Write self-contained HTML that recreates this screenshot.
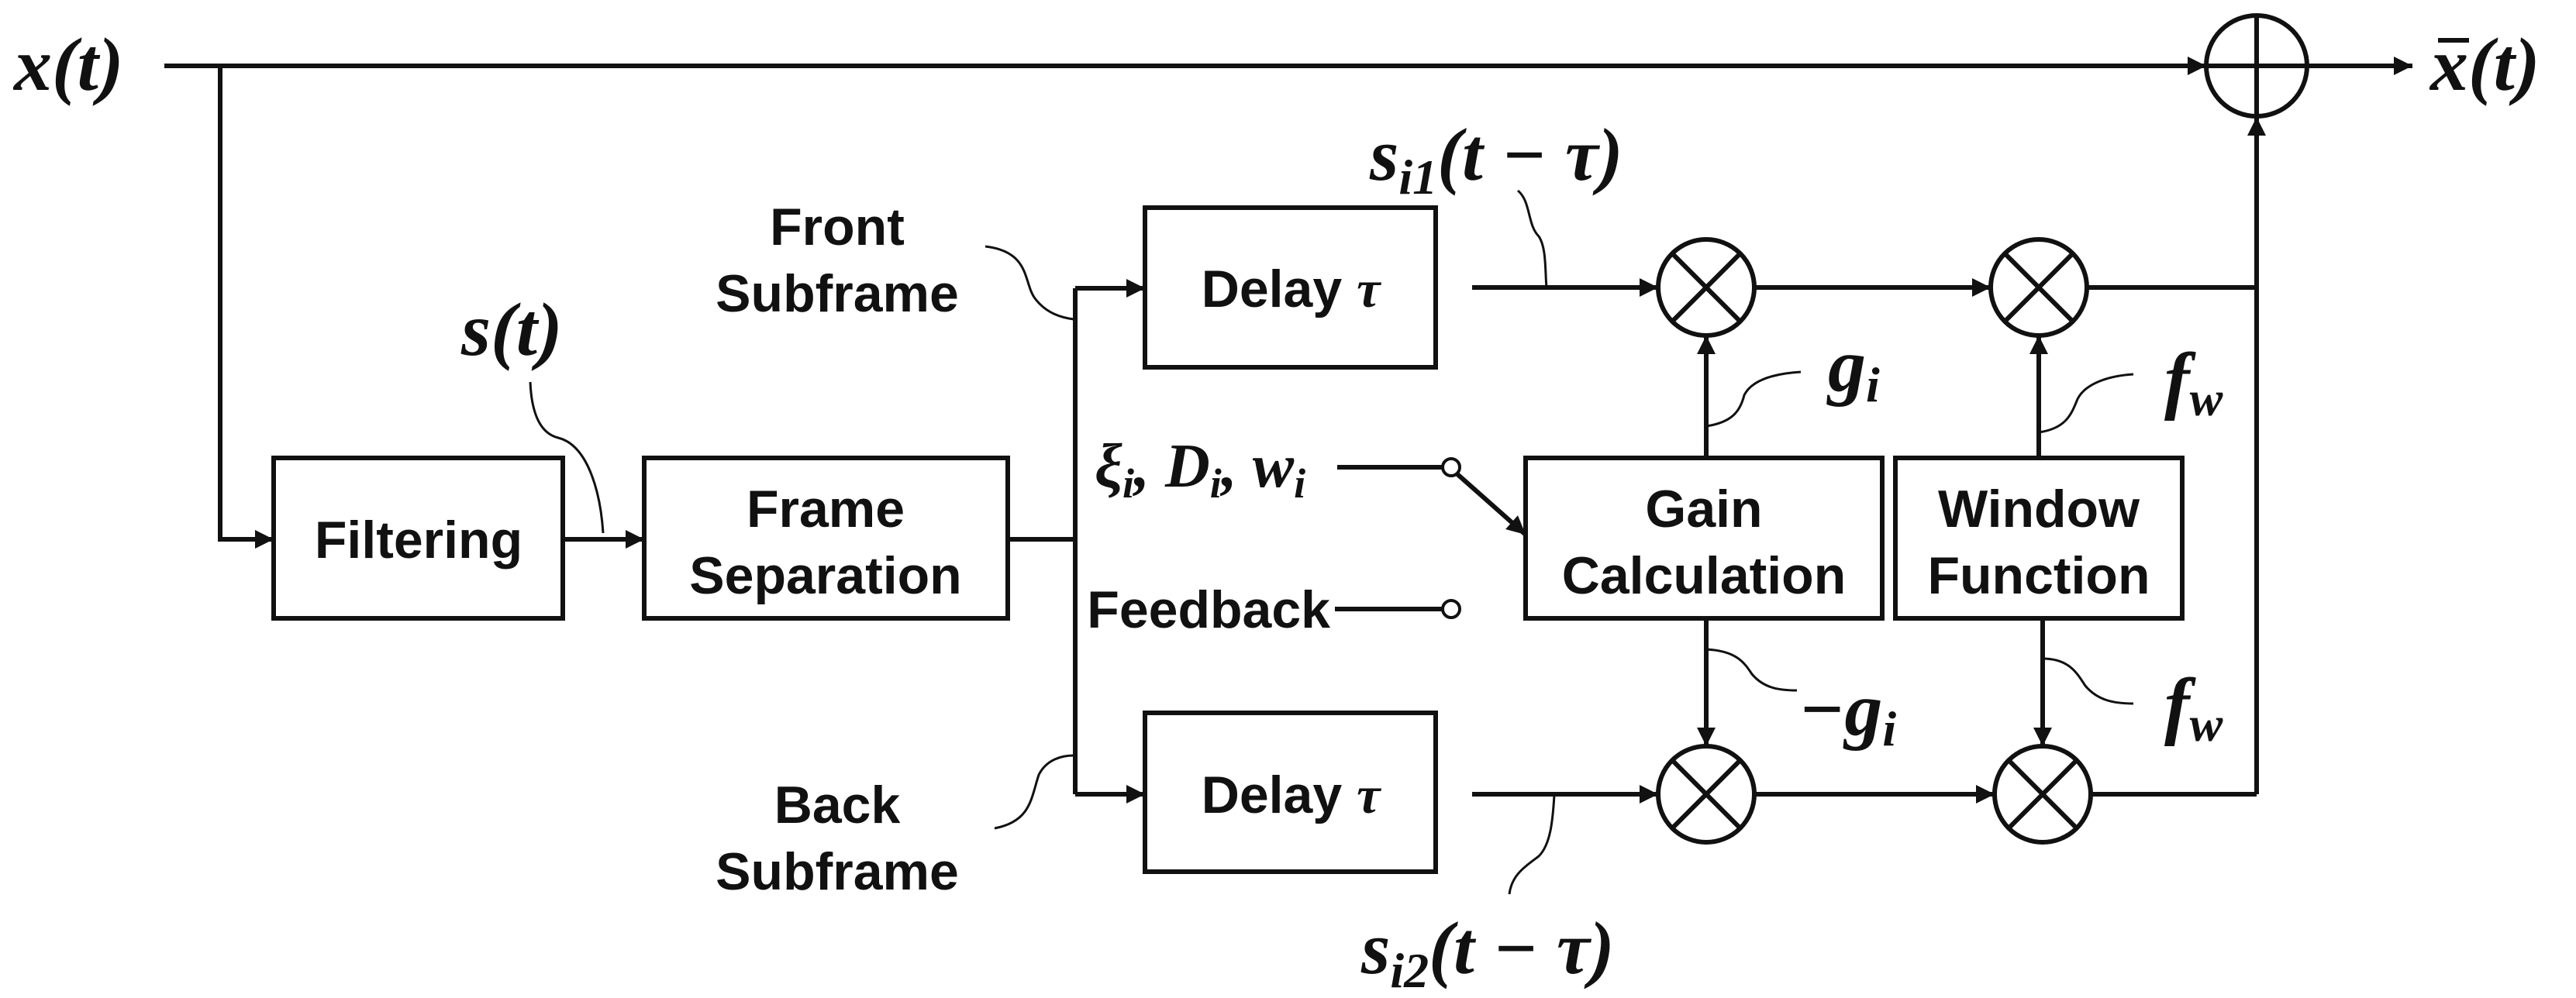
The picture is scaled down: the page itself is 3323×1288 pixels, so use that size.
<!DOCTYPE html>
<html><head><meta charset="utf-8"><style>
html,body{margin:0;padding:0;background:#fff}
svg{display:block}
.b{font-family:"Liberation Sans",sans-serif;font-weight:bold;font-size:68px;fill:#111}
.m{font-family:"Liberation Serif",serif;font-weight:bold;font-style:italic;fill:#111}
</style></head><body>
<svg width="3323" height="1288" viewBox="0 0 3323 1288" xmlns="http://www.w3.org/2000/svg">
<defs>
<marker id="A" viewBox="0 0 10 10" refX="10" refY="5" markerWidth="26" markerHeight="24" orient="auto" markerUnits="userSpaceOnUse"><path d="M0,0 L10,5 L0,10z" fill="#111"/></marker></defs>
<g stroke="#111" stroke-width="6" fill="none">
<line x1="212" y1="85" x2="2846" y2="85" marker-end="url(#A)"/>
<polyline points="284,85 284,696 353,696" marker-end="url(#A)"/>
<rect x="353" y="591" width="373" height="207"/>
<line x1="726" y1="696" x2="831" y2="696" marker-end="url(#A)"/>
<rect x="831" y="591" width="469" height="207"/>
<line x1="1300" y1="696" x2="1387" y2="696"/>
<line x1="1387" y1="372" x2="1387" y2="1025"/>
<line x1="1387" y1="372" x2="1477" y2="372" marker-end="url(#A)"/>
<line x1="1387" y1="1025" x2="1477" y2="1025" marker-end="url(#A)"/>
<rect x="1477" y="268" width="375" height="206"/>
<rect x="1477" y="920" width="375" height="205"/>
<path d="M1271,318 C1330,325 1320,365 1335,385 C1350,405 1370,410 1385,412" stroke-width="3"/>
<path d="M1283,1069 C1330,1060 1330,1030 1340,1000 C1350,980 1370,975 1385,975" stroke-width="3"/>
<path d="M684,493 C686,540 700,560 720,565 C760,575 775,640 778,688" stroke-width="3"/>
<line x1="1725" y1="603" x2="1860" y2="603"/>
<circle cx="1872" cy="603" r="11" stroke-width="4"/>
<line x1="1880" y1="612" x2="1968" y2="690" marker-end="url(#A)"/>
<line x1="1722" y1="786" x2="1860" y2="786"/>
<circle cx="1872" cy="786" r="11" stroke-width="4"/>
<rect x="1968" y="591" width="460" height="207"/>
<rect x="2445" y="591" width="370" height="207"/>
<circle cx="2201" cy="371" r="62"/><line x1="2157" y1="327" x2="2245" y2="415"/><line x1="2245" y1="327" x2="2157" y2="415"/>
<circle cx="2630" cy="371" r="62"/><line x1="2586" y1="327" x2="2674" y2="415"/><line x1="2674" y1="327" x2="2586" y2="415"/>
<circle cx="2201" cy="1025" r="62"/><line x1="2157" y1="981" x2="2245" y2="1069"/><line x1="2245" y1="981" x2="2157" y2="1069"/>
<circle cx="2635" cy="1025" r="62"/><line x1="2591" y1="981" x2="2679" y2="1069"/><line x1="2679" y1="981" x2="2591" y2="1069"/>
<line x1="1899" y1="371" x2="2139" y2="371" marker-end="url(#A)"/>
<line x1="1899" y1="1025" x2="2139" y2="1025" marker-end="url(#A)"/>
<line x1="2263" y1="371" x2="2568" y2="371" marker-end="url(#A)"/>
<line x1="2263" y1="1025" x2="2573" y2="1025" marker-end="url(#A)"/>
<line x1="2201" y1="591" x2="2201" y2="433" marker-end="url(#A)"/>
<line x1="2630" y1="591" x2="2630" y2="433" marker-end="url(#A)"/>
<line x1="2201" y1="798" x2="2201" y2="963" marker-end="url(#A)"/>
<line x1="2635" y1="798" x2="2635" y2="963" marker-end="url(#A)"/>
<line x1="2692" y1="371" x2="2911" y2="371"/>
<line x1="2697" y1="1025" x2="2911" y2="1025"/>
<line x1="2911" y1="1025" x2="2911" y2="151" marker-end="url(#A)"/>
<circle cx="2911" cy="85" r="65"/>
<line x1="2846" y1="85" x2="2976" y2="85"/><line x1="2911" y1="20" x2="2911" y2="150"/>
<line x1="2976" y1="85" x2="3112" y2="85" marker-end="url(#A)"/>
<path d="M1958,246 C1975,260 1970,290 1985,305 C1995,320 1993,350 1995,371" stroke-width="3"/>
<path d="M2005,1026 C2003,1060 2000,1090 1985,1105 C1965,1120 1950,1130 1947,1154" stroke-width="3"/>
<path d="M2201,550 C2235,545 2245,530 2250,510 C2260,490 2290,482 2323,480" stroke-width="3"/>
<path d="M2630,558 C2665,553 2672,535 2680,515 C2690,495 2720,485 2752,483" stroke-width="3"/>
<path d="M2201,838 C2240,840 2250,855 2260,870 C2275,888 2295,891 2318,891" stroke-width="3"/>
<path d="M2635,850 C2670,850 2680,870 2690,885 C2705,903 2725,908 2752,908" stroke-width="3"/>
</g>
<text class="b" x="540" y="720" text-anchor="middle">Filtering</text>
<text class="b" x="1065" y="680" text-anchor="middle">Frame</text>
<text class="b" x="1065" y="766" text-anchor="middle">Separation</text>
<text class="b" x="1665" y="396" text-anchor="middle">Delay <tspan class="m" font-size="68">τ</tspan></text>
<text class="b" x="1665" y="1049" text-anchor="middle">Delay <tspan class="m" font-size="68">τ</tspan></text>
<text class="b" x="2198" y="680" text-anchor="middle">Gain</text>
<text class="b" x="2198" y="766" text-anchor="middle">Calculation</text>
<text class="b" x="2630" y="680" text-anchor="middle">Window</text>
<text class="b" x="2630" y="766" text-anchor="middle">Function</text>
<text class="b" x="1080" y="316" text-anchor="middle">Front</text>
<text class="b" x="1080" y="402" text-anchor="middle">Subframe</text>
<text class="b" x="1080" y="1062" text-anchor="middle">Back</text>
<text class="b" x="1080" y="1148" text-anchor="middle">Subframe</text>
<text class="b" x="1716" y="810" text-anchor="end">Feedback</text>
<text class="m" x="18" y="116" font-size="98">x(t)</text>
<text class="m" x="595" y="458" font-size="98">s(t)</text>
<text class="m" x="1412" y="628" font-size="80">ξ<tspan font-size="54" dy="14">i</tspan><tspan dy="-14">, D</tspan><tspan font-size="54" dy="14">i</tspan><tspan dy="-14">, w</tspan><tspan font-size="54" dy="14">i</tspan></text>
<text class="m" x="1767" y="232" font-size="96">s<tspan font-size="64" dy="18">i1</tspan><tspan dy="-18">(t − τ)</tspan></text>
<text class="m" x="1756" y="1256" font-size="96">s<tspan font-size="64" dy="18">i2</tspan><tspan dy="-18">(t − τ)</tspan></text>
<text class="m" x="2358" y="504" font-size="98">g<tspan font-size="64" dy="14">i</tspan></text>
<text class="m" x="2320" y="948" font-size="98">−g<tspan font-size="64" dy="14">i</tspan></text>
<text class="m" x="2792" y="522" font-size="98">f<tspan font-size="64" dy="14">w</tspan></text>
<text class="m" x="2792" y="942" font-size="98">f<tspan font-size="64" dy="14">w</tspan></text>
<text class="m" x="3135" y="116" font-size="98">x(t)</text>
<line x1="3145" y1="52" x2="3185" y2="52" stroke="#111" stroke-width="6"/>
</svg>
</body></html>
